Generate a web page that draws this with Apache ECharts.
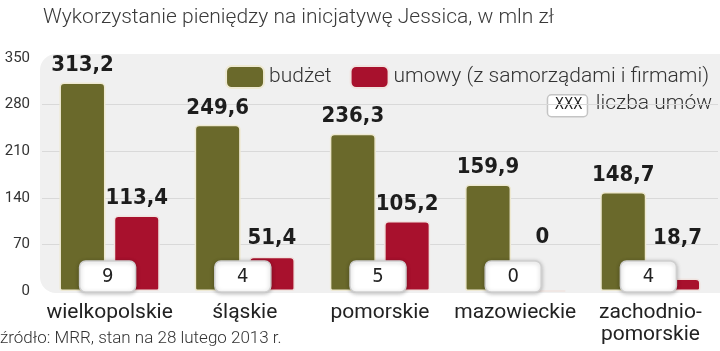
<!DOCTYPE html>
<html>
<head>
<meta charset="utf-8">
<script src="https://cdn.jsdelivr.net/npm/echarts@6/dist/echarts.min.js"></script>
<style>
  html, body { margin: 0; padding: 0; background: #fff; }
  #chart { width: 720px; height: 351px; }
</style>
</head>
<body>
<div id="chart"></div>
<script>
// data
const regions = ["wielkopolskie", "śląskie", "pomorskie", "mazowieckie", "zachodnio-\npomorskie"];
const budget = [313.2, 249.6, 236.3, 159.9, 148.7];
const contracts = [113.4, 51.4, 105.2, 0, 18.7];
const contractCount = [9, 4, 5, 0, 4];
const yTicks = [0, 70, 140, 210, 280, 350];

const OLIVE = "#6a692b";
const RED = "#a8112d";
const PX_PER_UNIT = 233 / 350;

// labels of short bars are lifted above the count box
function labelFor(v) {
  return {
    value: v,
    label: { distance: Math.max(6, (63 - v) * PX_PER_UNIT) },
  };
}

const valueLabel = {
  show: true,
  position: "top",
  fontFamily: "DejaVu Sans Condensed",
  fontWeight: "bold",
  fontSize: 22,
  color: "#1d1d1d",
  formatter: (p) => String(p.value).replace(".", ","),
};

const chart = echarts.init(document.getElementById("chart"), null, { renderer: "canvas" });

chart.setOption({
  animation: false,
  textStyle: { fontFamily: "Roboto" },
  title: {
    text: "Wykorzystanie pieniędzy na inicjatywę Jessica, w mln zł",
    left: 38,
    top: 2,
    textStyle: { fontFamily: "Roboto", fontWeight: 300, fontSize: 21, color: "#3a3a3a" },
  },
  graphic: [
    {
      type: "rect",
      left: 40,
      top: 54,
      z: -10,
      shape: { width: 700, height: 239, r: 16 },
      style: { fill: "#f0f0f0" },
    },
    {
      type: "group",
      right: 8,
      top: 93,
      children: [
        {
          type: "rect",
          left: 0,
          top: 0,
          shape: { width: 40, height: 22, r: 4 },
          style: { fill: "#fff", stroke: "#c4c4c4", lineWidth: 1.5 },
        },
        {
          type: "text",
          left: 8,
          top: 4,
          style: { text: "XXX", font: "15px 'DejaVu Sans Condensed'", fill: "#222" },
        },
        {
          type: "text",
          left: 49,
          top: -1,
          style: { text: "liczba umów", font: "300 21px Roboto", fill: "#333" },
        },
      ],
    },
    {
      type: "text",
      left: 0,
      bottom: 4,
      style: { text: "źródło: MRR, stan na 28 lutego 2013 r.", font: "300 17px Roboto", fill: "#333" },
    },
  ],
  legend: {
    data: ["budżet", "umowy (z samorządami i firmami)"],
    right: 6,
    top: 60,
    icon: "roundRect",
    itemWidth: 38,
    itemHeight: 22,
    itemGap: 18,
    textStyle: { fontFamily: "Roboto", fontWeight: 300, fontSize: 21, color: "#333" },
  },
  grid: { left: 42, right: 2, top: 58, bottom: 60 },
  xAxis: {
    type: "category",
    data: regions,
    axisLine: { show: false },
    axisTick: { show: false },
    axisLabel: {
      margin: 11,
      fontFamily: "Roboto",
      fontSize: 21,
      lineHeight: 22,
      color: "#222",
      interval: 0,
    },
  },
  yAxis: {
    type: "value",
    min: yTicks[0],
    max: yTicks[yTicks.length - 1],
    interval: 70,
    axisLine: { show: false },
    axisTick: { show: false },
    axisLabel: { margin: 12, fontFamily: "Roboto", fontSize: 15, color: "#333" },
    splitLine: { show: true, showMinLine: false, showMaxLine: false, lineStyle: { color: "#d9d9d9", width: 1 } },
  },
  series: [
    {
      name: "budżet",
      type: "bar",
      barWidth: 46,
      barGap: "18%",
      data: budget.map(labelFor),
      itemStyle: { color: OLIVE, borderColor: "#eee9d2", borderWidth: 1.5, borderRadius: [4, 4, 2, 2] },
      label: valueLabel,
    },
    {
      name: "umowy (z samorządami i firmami)",
      type: "bar",
      barWidth: 46,
      data: contracts.map(labelFor),
      itemStyle: { color: RED, borderColor: "#f0e4e0", borderWidth: 1.5, borderRadius: [4, 4, 2, 2] },
      label: valueLabel,
    },
    {
      name: "liczba umów",
      type: "custom",
      z: 10,
      data: contractCount.map((c, i) => [i, c]),
      renderItem: function (params, api) {
        const p = api.coord([api.value(0), 0]);
        const w = 56, h = 31;
        return {
          type: "group",
          children: [
            {
              type: "rect",
              shape: { x: p[0] - w / 2 - 2, y: p[1] - h + 1, width: w, height: h, r: 6 },
              style: {
                fill: "#fff",
                stroke: "#cfcfcf",
                lineWidth: 1.5,
                shadowBlur: 4,
                shadowColor: "rgba(0,0,0,0.25)",
                shadowOffsetY: 1,
              },
            },
            {
              type: "text",
              style: {
                text: String(api.value(1)),
                x: p[0] - 2,
                y: p[1] - h / 2 + 1,
                align: "center",
                verticalAlign: "middle",
                font: "20px 'DejaVu Sans Condensed'",
                fill: "#222",
              },
            },
          ],
        };
      },
    },
  ],
});
</script>
</body>
</html>
